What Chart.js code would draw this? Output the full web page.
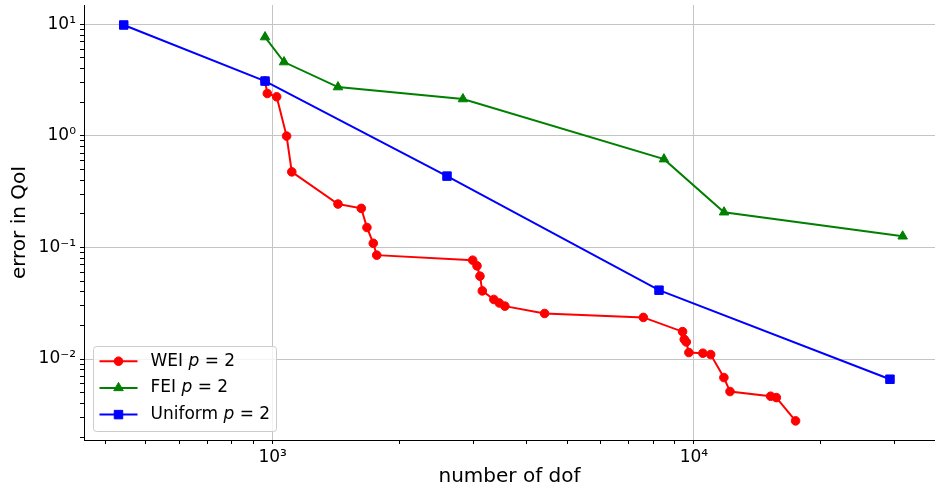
<!DOCTYPE html>
<html>
<head>
<meta charset="utf-8">
<title>error in QoI vs number of dof</title>
<script src="https://cdn.jsdelivr.net/npm/chart.js@4.4.1/dist/chart.umd.min.js"></script>
<style>
    html, body { margin: 0; padding: 0; background: #fff; }
    #wrap { width: 935px; height: 492px; position: relative; }
</style>
</head>
<body>
<div id="wrap"><canvas id="errChart"></canvas></div>
<script>
// Values (number of dof, error in QoI)
const weiDof = [959, 971, 1022, 1079, 1110, 1429, 1623, 1674, 1733, 1766, 2984, 3055, 3105, 3145, 3350, 3451, 3558, 4421, 7584, 9398, 9485, 9590, 9728, 10500, 10960, 11780, 12180, 15210, 15690, 17430];
const weiErr = [3.10, 2.40, 2.24, 0.996, 0.476, 0.245, 0.224, 0.151, 0.109, 0.0853, 0.0769, 0.0684, 0.0553, 0.0408, 0.0342, 0.0318, 0.0298, 0.0256, 0.0236, 0.0176, 0.0150, 0.01422, 0.01143, 0.01127, 0.01097, 0.00682, 0.00511, 0.00464, 0.00451, 0.00279];

const feiDof = [959, 1064, 1429, 2829, 8490, 11790, 31300];
const feiErr = [7.69, 4.59, 2.74, 2.14, 0.619, 0.207, 0.126];

const uniDof = [443, 959, 2593, 8262, 29200];
const uniErr = [9.86, 3.10, 0.436, 0.0414, 0.00659];

const seriesNames = ['WEI', 'FEI', 'Uniform'];
const polyOrder = 2;

// axis limits and labelled decades
const xLimits = [356.5, 37350];
const yLimits = [0.00188, 14.9];
const xDecades = [1e3, 1e4];
const yDecades = [1e-2, 1e-1, 1e0, 1e1];

const FONT = '"DejaVu Sans", Verdana, sans-serif';
const GRID = '#c4c4c4';

function toPoints(xs, ys) {
    return xs.map((x, i) => ({ x: x, y: ys[i] }));
}

function isDecade(v) {
    const l = Math.log10(v);
    return Math.abs(l - Math.round(l)) < 1e-9;
}

const SUP = { '-': '\u207B', '0': '\u2070', '1': '\u00B9', '2': '\u00B2', '3': '\u00B3', '4': '\u2074', '5': '\u2075', '6': '\u2076', '7': '\u2077', '8': '\u2078', '9': '\u2079' };
function decadeLabel(v) {
    if (!isDecade(v)) return '';
    const e = String(Math.round(Math.log10(v)));
    return '10' + e.split('').map(c => SUP[c]).join('');
}

// major + minor tick positions (1..9 x 10^k) inside the limits
function logTicks(min, max) {
    const out = [];
    for (let k = Math.floor(Math.log10(min)); k <= Math.ceil(Math.log10(max)); k++) {
        for (let m = 1; m <= 9; m++) {
            const v = m * Math.pow(10, k);
            if (v >= min && v <= max) out.push({ value: v, major: m === 1 });
        }
    }
    return out;
}

// matplotlib style legend: line + marker sample, italic p
const mplLegend = {
    id: 'mplLegend',
    afterDatasetsDraw(chart) {
        const { ctx, chartArea } = chart;
        const boxW = 183, boxH = 85, rowH = 26.7;
        const boxX = chartArea.left + 9.5;
        const boxY = chartArea.bottom - 8.5 - boxH;

        ctx.save();
        ctx.beginPath();
        ctx.roundRect(boxX, boxY, boxW, boxH, 3);
        ctx.fillStyle = 'rgba(255,255,255,0.8)';
        ctx.fill();
        ctx.strokeStyle = '#cccccc';
        ctx.lineWidth = 1;
        ctx.stroke();

        chart.data.datasets.forEach((ds, i) => {
            const y = boxY + 14.7 + i * rowH;
            ctx.strokeStyle = ds.borderColor;
            ctx.lineWidth = ds.borderWidth;
            ctx.beginPath();
            ctx.moveTo(boxX + 6, y);
            ctx.lineTo(boxX + 44, y);
            ctx.stroke();

            ctx.fillStyle = ds.backgroundColor;
            ctx.lineWidth = ds.pointBorderWidth;
            Chart.helpers.drawPoint(ctx, {
                pointStyle: ds.pointStyle,
                radius: ds.pointRadius,
                borderWidth: ds.pointBorderWidth,
                rotation: 0
            }, boxX + 25, y);

            // text: "<name> p = 2"
            ctx.fillStyle = '#000';
            ctx.textBaseline = 'middle';
            ctx.textAlign = 'left';
            let tx = boxX + 57;
            ctx.font = '17px ' + FONT;
            const head = ds.label + ' ';
            ctx.fillText(head, tx, y);
            tx += ctx.measureText(head).width;
            ctx.font = 'italic 17px ' + FONT;
            ctx.fillText('p', tx, y);
            tx += ctx.measureText('p').width;
            ctx.font = '17px ' + FONT;
            ctx.fillText(' = ' + polyOrder, tx, y);
        });
        ctx.restore();
    }
};

function axisOptions(limits, decades, titleText, horizontal) {
    return {
        type: 'logarithmic',
        min: limits[0],
        max: limits[1],
        afterBuildTicks: s => { s.ticks = logTicks(limits[0], limits[1]); },
        afterFit: s => {
            if (horizontal) {
                s.height = 52;
            } else {
                s.width = 84;
            }
            s.paddingLeft = 0;
            s.paddingRight = 0;
            s.paddingTop = 0;
            s.paddingBottom = 0;
        },
        grid: {
            color: c => (c.tick && decades.some(d => Math.abs(d - c.tick.value) / d < 1e-9)) ? GRID : 'rgba(0,0,0,0)',
            tickColor: '#000',
            tickLength: 4,
            lineWidth: 1
        },
        border: { display: true, color: '#000', width: 1 },
        ticks: {
            autoSkip: false,
            maxRotation: 0,
            minRotation: 0,
            padding: horizontal ? 3 : 4,
            color: '#000',
            font: { family: FONT, size: 17 },
            callback: v => decadeLabel(v)
        },
        title: {
            display: true,
            text: titleText,
            color: '#000',
            font: { family: FONT, size: 20 },
            padding: horizontal ? { top: 0, bottom: 3.5 } : { top: 7.5, bottom: 0 }
        }
    };
}

window.addEventListener('DOMContentLoaded', () => {
    const ctx = document.getElementById('errChart').getContext('2d');

    new Chart(ctx, {
        type: 'line',
        data: {
            datasets: [
                {
                    label: seriesNames[0],
                    data: toPoints(weiDof, weiErr),
                    borderColor: '#ff0000',
                    backgroundColor: '#ff0000',
                    borderWidth: 2,
                    pointStyle: 'circle',
                    pointRadius: 4.3,
                    pointBorderWidth: 1,
                    order: 3
                },
                {
                    label: seriesNames[1],
                    data: toPoints(feiDof, feiErr),
                    borderColor: '#008000',
                    backgroundColor: '#008000',
                    borderWidth: 2,
                    pointStyle: 'triangle',
                    pointRadius: 5.5,
                    pointBorderWidth: 1,
                    order: 2
                },
                {
                    label: seriesNames[2],
                    data: toPoints(uniDof, uniErr),
                    borderColor: '#0000ff',
                    backgroundColor: '#0000ff',
                    borderWidth: 2,
                    pointStyle: 'rect',
                    pointRadius: 6,
                    pointBorderWidth: 1,
                    order: 1
                }
            ]
        },
        options: {
            responsive: true,
            maintainAspectRatio: false,
            animation: false,
            layout: { autoPadding: false, padding: { top: 5, right: 0, bottom: 0, left: 0 } },
            elements: { line: { tension: 0 } },
            plugins: {
                legend: { display: false },
                tooltip: { enabled: false }
            },
            scales: {
                x: axisOptions(xLimits, xDecades, 'number of dof', true),
                y: axisOptions(yLimits, yDecades, 'error in QoI', false)
            }
        },
        plugins: [mplLegend]
    });
});
</script>
</body>
</html>
